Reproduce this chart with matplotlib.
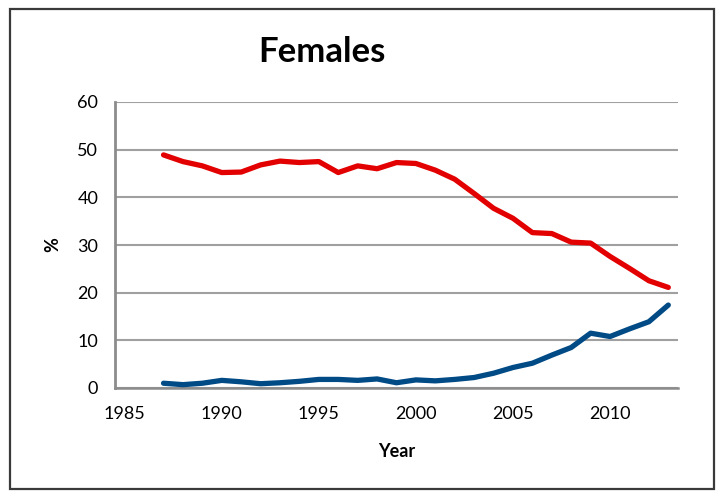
import matplotlib
matplotlib.use("Agg")
import matplotlib.pyplot as plt
from matplotlib.patches import Rectangle

# yearly percentages, 1987-2013
years = list(range(1987, 2014))
red_series = [48.9, 47.5, 46.6, 45.2, 45.3, 46.8, 47.6, 47.3, 47.5, 45.2,
              46.6, 46.0, 47.3, 47.1, 45.7, 43.8, 40.8, 37.7, 35.6, 32.6,
              32.4, 30.6, 30.4, 27.6, 25.1, 22.5, 21.1]
blue_series = [1.0, 0.7, 1.0, 1.6, 1.3, 0.9, 1.1, 1.4, 1.8, 1.8,
               1.6, 1.9, 1.1, 1.7, 1.5, 1.8, 2.2, 3.1, 4.3, 5.2,
               6.9, 8.5, 11.5, 10.8, 12.4, 13.9, 17.4]
xticks = [1985, 1990, 1995, 2000, 2005, 2010]
yticks = [0, 10, 20, 30, 40, 50, 60]

plt.rcParams['font.family'] = ['Lato', 'DejaVu Sans']

fig = plt.figure(figsize=(7.23, 4.95), dpi=100)
fig.patch.set_facecolor('white')

# outer chart frame
fig.patches.append(Rectangle((10 / 723, 1 - 489 / 495), 704 / 723, 480 / 495,
                             transform=fig.transFigure, fill=False,
                             edgecolor='#3a3a3a', linewidth=1.6))

ax = fig.add_axes([115 / 723, 1 - 388 / 495, 563 / 723, 286 / 495])

ax.plot(years, red_series, color='#e30000', linewidth=3.8,
        solid_joinstyle='round', solid_capstyle='round', zorder=3)
ax.plot(years, blue_series, color='#004a86', linewidth=3.8,
        solid_joinstyle='round', solid_capstyle='round', zorder=3)

ax.set_xlim(1984.5, 2013.5)
ax.set_ylim(0, 60)
ax.set_xticks(xticks)
ax.set_yticks(yticks)
ax.tick_params(axis='x', length=0, pad=13, labelsize=13)
ax.tick_params(axis='y', length=0, pad=12, labelsize=13)

ax.grid(axis='y', color='#a0a0a0', linewidth=1.5)
ax.set_axisbelow(True)
for side in ['top', 'right']:
    ax.spines[side].set_visible(False)
ax.spines['left'].set_color('#8c8c8c')
ax.spines['left'].set_linewidth(2)
ax.spines['bottom'].set_color('#8c8c8c')
ax.spines['bottom'].set_linewidth(1.8)

ax.set_xlabel('Year', fontsize=13, fontweight='bold', labelpad=15)
ax.set_ylabel('%', fontsize=13, fontweight='bold', labelpad=12)

fig.text(322 / 723, 1 - 52 / 495, 'Females', fontsize=25, fontweight='bold',
         ha='center', va='center')

fig.savefig('out.png', dpi=100)
